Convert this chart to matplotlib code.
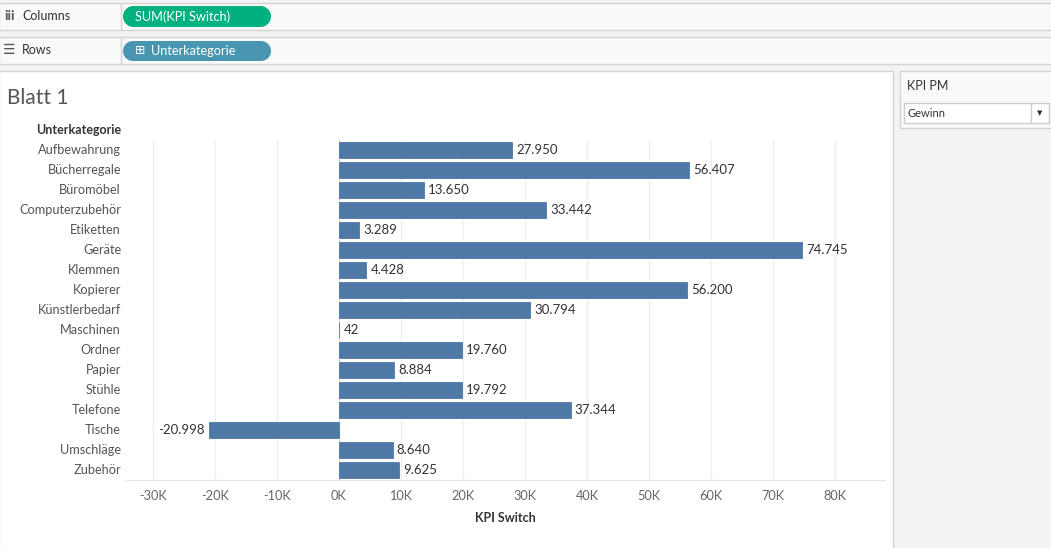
import numpy as np
import matplotlib
matplotlib.use('Agg')
import matplotlib.pyplot as plt
from matplotlib.patches import Rectangle, Ellipse
from matplotlib.transforms import blended_transform_factory
from matplotlib.ticker import FuncFormatter

plt.rcParams['font.family'] = ['Lato', 'DejaVu Sans']

# data
categories = ['Aufbewahrung', 'Bücherregale', 'Büromöbel', 'Computerzubehör', 'Etiketten',
              'Geräte', 'Klemmen', 'Kopierer', 'Künstlerbedarf', 'Maschinen', 'Ordner',
              'Papier', 'Stühle', 'Telefone', 'Tische', 'Umschläge', 'Zubehör']
values = [27950, 56407, 13650, 33442, 3289, 74745, 4428, 56200, 30794, 42, 19760,
          8884, 19792, 37344, -20998, 8640, 9625]
ticks = [-30000, -20000, -10000, 0, 10000, 20000, 30000, 40000, 50000, 60000, 70000, 80000]

W, H = 1051, 548
fig = plt.figure(figsize=(W / 100, H / 100), dpi=100)
fig.patch.set_facecolor('#f3f3f3')


def fx(x):
    return x / W


def fy(y):
    return 1 - y / H


def box(x0, y0, x1, y1, fc, ec=None, lw=1):
    fig.patches.append(Rectangle((fx(x0), fy(y1)), fx(x1) - fx(x0), fy(y0) - fy(y1),
                                 transform=fig.transFigure, fc=fc,
                                 ec=ec if ec else 'none', lw=lw, zorder=-5))


def vline(x, y0, y1, c='#d4d4d4'):
    fig.add_artist(plt.Line2D([fx(x), fx(x)], [fy(y0), fy(y1)], transform=fig.transFigure,
                              color=c, lw=1, zorder=-4))


def pill(x0, y0, x1, y1, fc):
    r = (y1 - y0) / 2
    fig.patches.append(Rectangle((fx(x0 + r), fy(y1)), fx(x1 - x0 - 2 * r), fy(y0) - fy(y1),
                                 transform=fig.transFigure, fc=fc, ec='none', zorder=-3))
    for cx in (x0 + r, x1 - r):
        fig.patches.append(Ellipse((fx(cx), fy((y0 + y1) / 2)), fx(2 * r), fy(0) - fy(2 * r),
                                   transform=fig.transFigure, fc=fc, ec='none', zorder=-3))


# shelves
box(-1, 3, W + 1, 30, '#f9f9f9', '#d4d4d4')
box(-1, 37, W + 1, 64, '#f9f9f9', '#d4d4d4')
vline(121, 3, 30)
vline(121, 37, 64)
fig.text(fx(4), fy(16.5), 'iii', fontsize=10, color='#555555', va='center', fontweight='bold')
fig.text(fx(22), fy(16.5), 'Columns', fontsize=9, color='#333333', va='center')
fig.text(fx(3), fy(50.5), '☰', fontsize=10, color='#555555', va='center', family=['DejaVu Sans'])
fig.text(fx(22), fy(50.5), 'Rows', fontsize=9, color='#333333', va='center')
pill(123, 6, 271, 27, '#00b180')
fig.text(fx(135), fy(16.5), 'SUM(KPI Switch)', fontsize=9.2, color='white', va='center')
pill(123, 41, 271, 61, '#4996b2')
fig.text(fx(135), fy(51), '⊞', fontsize=9, color='white', va='center', family=['DejaVu Sans'])
fig.text(fx(151), fy(51), 'Unterkategorie', fontsize=9.2, color='white', va='center')

# sheet and filter card
box(-1, 71, 893, H + 1, 'white', '#d4d4d4')
box(900, 71, W + 1, 128, '#f9f9f9', '#d4d4d4')
fig.text(fx(907), fy(86), 'KPI PM', fontsize=9, color='#333333', va='center')
box(904, 103, 1049, 123, 'white', '#cccccc')
vline(1031, 104, 122, '#cccccc')
fig.text(fx(908), fy(113.5), 'Gewinn', fontsize=8, color='#333333', va='center')
fig.text(fx(1040), fy(113.5), '▼', fontsize=5, color='#333333', va='center', ha='center', family=['DejaVu Sans'])

fig.text(fx(7), fy(98), 'Blatt 1', fontsize=15, color='#555555', va='center')

# chart
ax = fig.add_axes([fx(126), fy(480), fx(885) - fx(126), fy(140) - fy(480)], zorder=2)
ax.set_facecolor('none')
y = np.arange(len(categories))
ax.barh(y, values, height=0.76, color='#4e79a7', edgecolor='#4e79a7', lw=0.6, zorder=3)
ax.set_ylim(len(categories) - 0.5, -0.5)
ax.set_xlim(-34350, 88060)
ax.set_xticks(ticks)
ax.xaxis.set_major_formatter(FuncFormatter(lambda v, p: '%dK' % (v / 1000)))
ax.tick_params(axis='x', length=0, pad=7, labelsize=9.2, labelcolor='#666666')
ax.set_yticks([])
for t in ticks:
    if t != 0:
        ax.axvline(t, color='#efefef', lw=1, zorder=1)
ax.axvline(0, color='#aaaaaa', lw=0.8, ls=(0, (1, 1.5)), zorder=2)
for s in ['top', 'right', 'left']:
    ax.spines[s].set_visible(False)
ax.spines['bottom'].set_color('#e6e6e6')

lab_tr = blended_transform_factory(fig.transFigure, ax.transData)
for yi, v in zip(y, values):
    lab = '{:,}'.format(v).replace(',', '.')
    if v >= 0:
        ax.annotate(lab, (v, yi), xytext=(3, 0), textcoords='offset points', va='center', ha='left',
                    fontsize=9.5, color='#333333')
    else:
        ax.annotate(lab, (v, yi), xytext=(-3, 0), textcoords='offset points', va='center', ha='right',
                    fontsize=9.5, color='#333333')
    ax.text(fx(121), yi, categories[yi], transform=lab_tr, ha='right', va='center',
            fontsize=9.2, color='#555555', clip_on=False)

fig.text(fx(121), fy(130), 'Unterkategorie', fontsize=9, color='#333333', ha='right', va='center', fontweight='bold')
fig.text(fx(505), fy(518), 'KPI Switch', fontsize=9, color='#333333', ha='center', va='center', fontweight='bold')

fig.savefig('out.png', dpi=100, facecolor=fig.get_facecolor())
